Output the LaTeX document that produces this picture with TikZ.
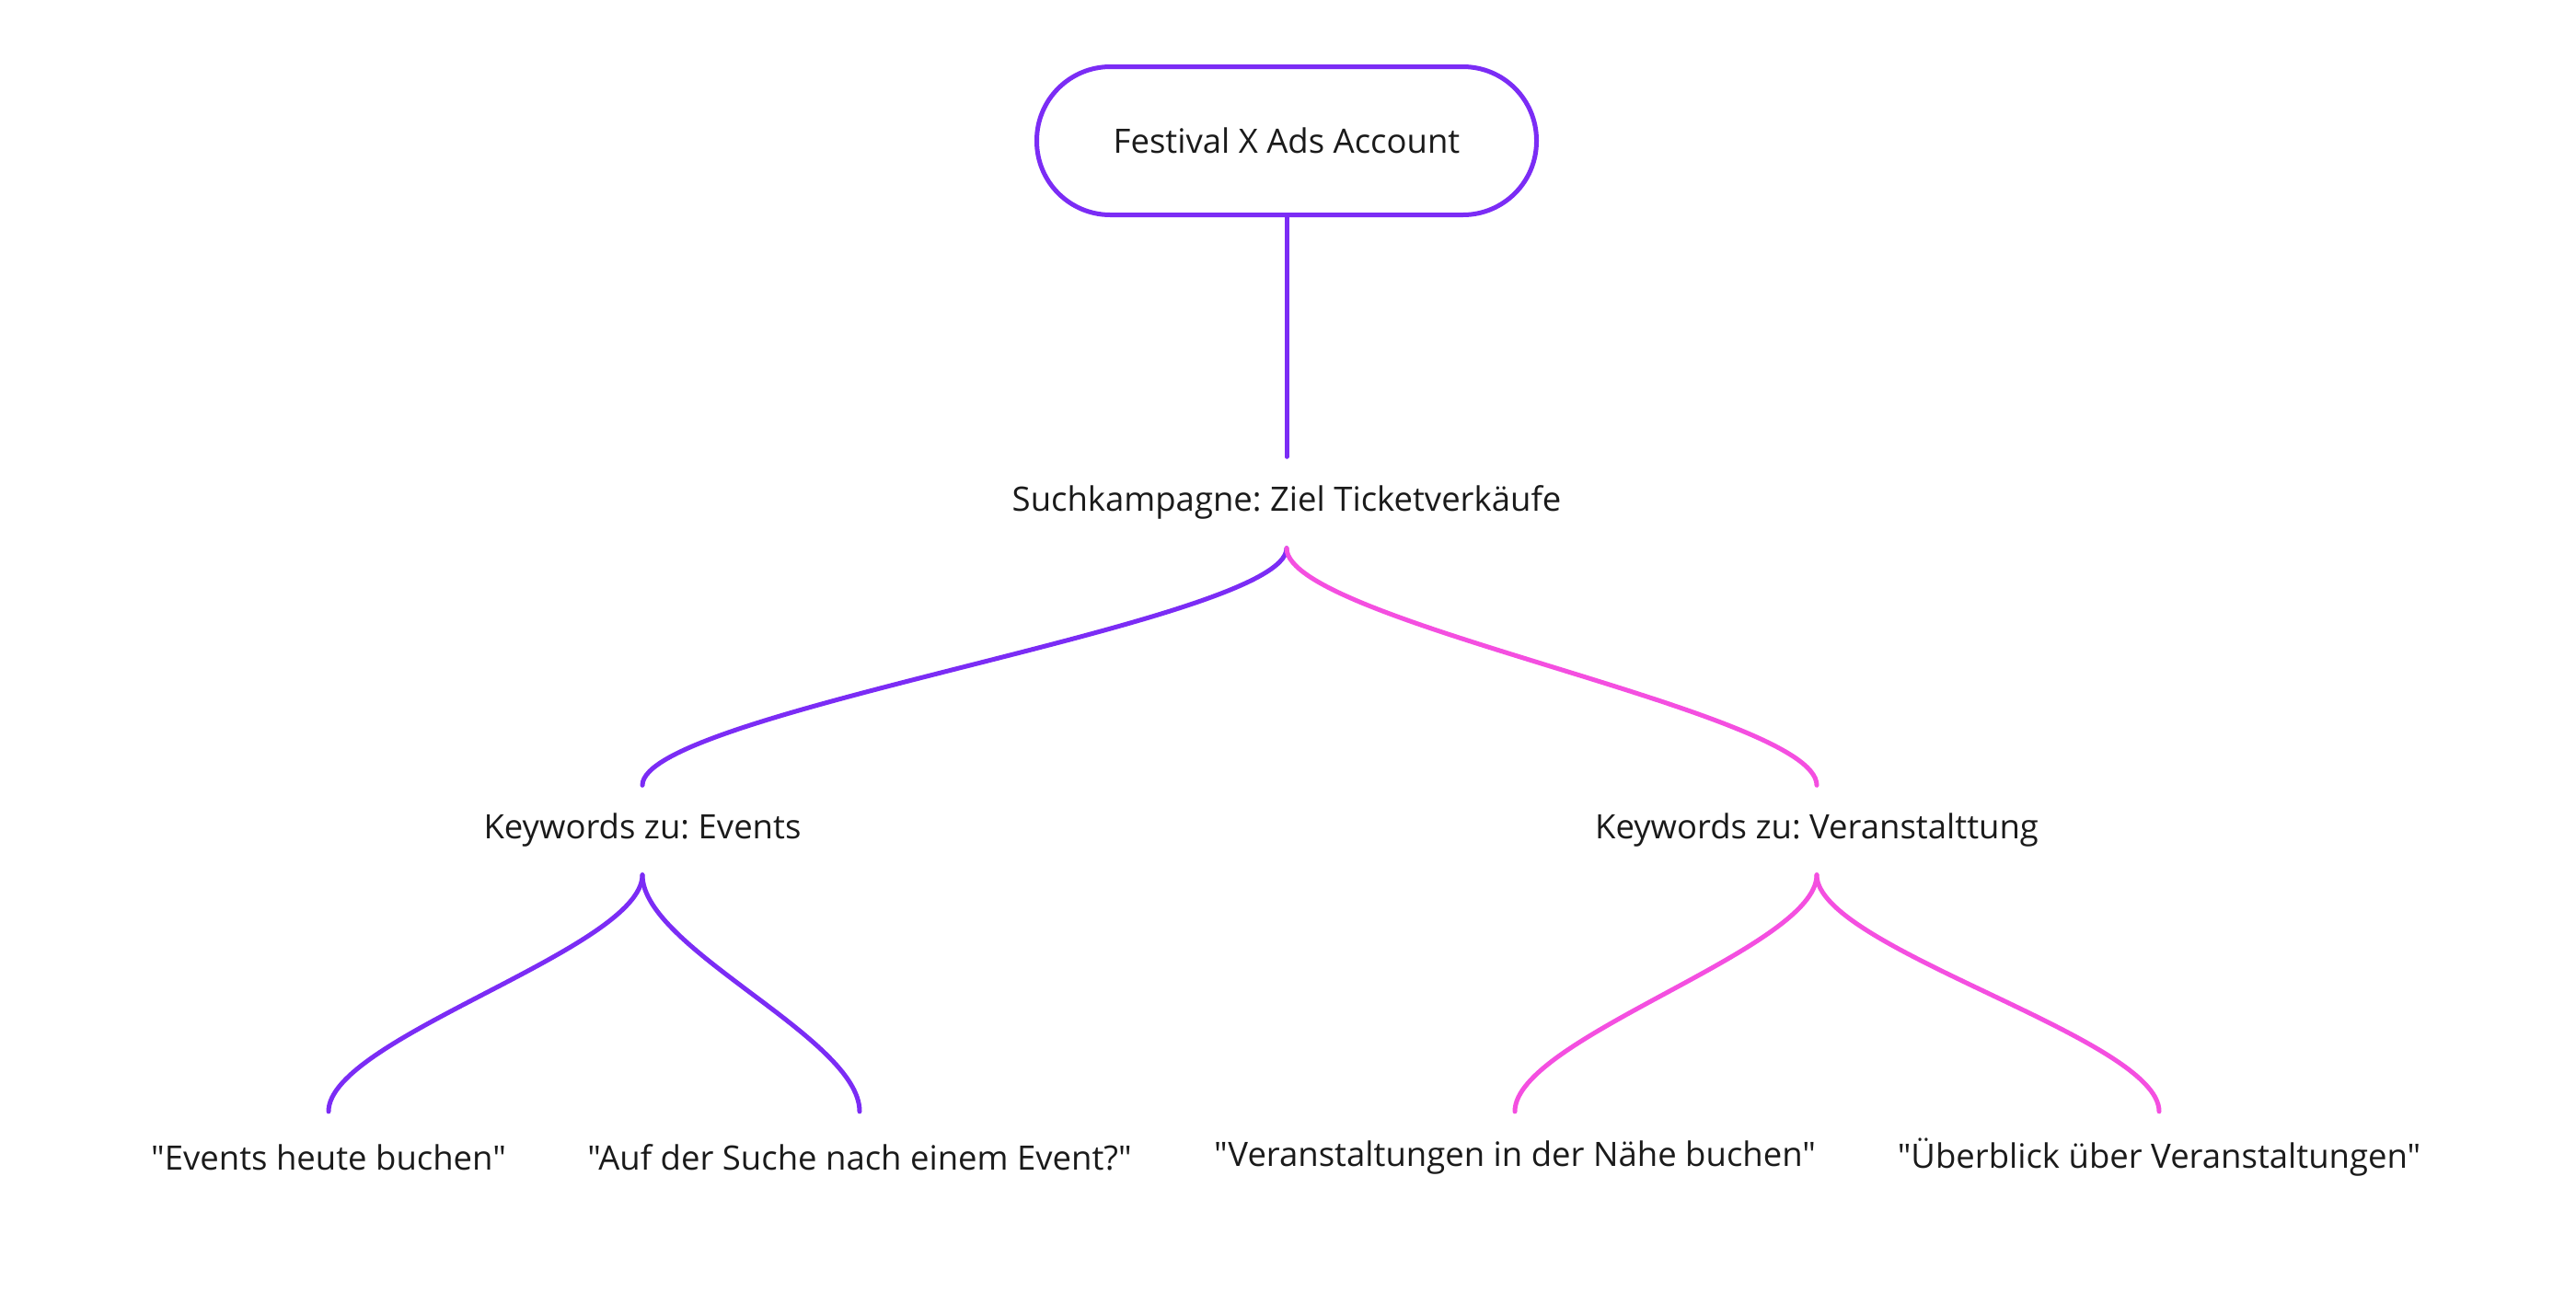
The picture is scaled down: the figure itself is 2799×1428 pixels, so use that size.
\documentclass[tikz,border=0pt]{standalone}
\usepackage{fontspec}
\newfontfamily\osans{Open Sans}
\definecolor{purp}{HTML}{7B2CF5}
\definecolor{pink}{HTML}{F44FE0}
\definecolor{ink}{HTML}{1A1A1A}
\frenchspacing
\begin{document}
\begin{tikzpicture}[x=1pt,y=-1pt,
  txt/.style={inner sep=0pt, text=ink, font=\osans\frenchspacing\fontsize{36.5}{43}\selectfont},
  pill/.style={draw=purp, line width=5pt, rounded corners=80pt, minimum width=543pt, minimum height=161pt, inner sep=0pt, text=ink, font=\osans\frenchspacing\fontsize{36.5}{43}\selectfont},
  lnp/.style={draw=purp, line width=5pt, line cap=round},
  lnk/.style={draw=pink, line width=5pt, line cap=round}]
\useasboundingbox (0,0) rectangle (2799,1428);
\node[pill] (root) at (1398,153) {Festival X Ads Account};
\node[txt, minimum height=99pt] (camp) at (1398,546) {Suchkampagne: Ziel Ticketverkäufe};
\node[txt, minimum height=97pt] (kwe) at (698,902) {Keywords zu: Events};
\node[txt, minimum height=97pt] (kwv) at (1974,902) {Keywords zu: Veranstalttung};
\node[txt, minimum height=100pt] (l1) at (357,1258) {"Events heute buchen"};
\node[txt, minimum height=100pt] (l2) at (934,1258) {"Auf der Suche nach einem Event?"};
\node[txt, minimum height=100pt] (l3) at (1646,1258) {"Veranstaltungen in der Nähe buchen"};
\node[txt, minimum height=100pt] (l4) at (2346,1258) {"Überblick über Veranstaltungen"};
\draw[lnp] (root.south) -- (camp.north);
\draw[lnp] (camp.south) .. controls ([yshift=-80pt]camp.south) and ([yshift=80pt]kwe.north) .. (kwe.north);
\draw[lnk] (camp.south) .. controls ([yshift=-80pt]camp.south) and ([yshift=80pt]kwv.north) .. (kwv.north);
\draw[lnp] (kwe.south) .. controls ([yshift=-80pt]kwe.south) and ([yshift=80pt]l1.north) .. (l1.north);
\draw[lnp] (kwe.south) .. controls ([yshift=-80pt]kwe.south) and ([yshift=80pt]l2.north) .. (l2.north);
\draw[lnk] (kwv.south) .. controls ([yshift=-80pt]kwv.south) and ([yshift=80pt]l3.north) .. (l3.north);
\draw[lnk] (kwv.south) .. controls ([yshift=-80pt]kwv.south) and ([yshift=80pt]l4.north) .. (l4.north);
\end{tikzpicture}
\end{document}
